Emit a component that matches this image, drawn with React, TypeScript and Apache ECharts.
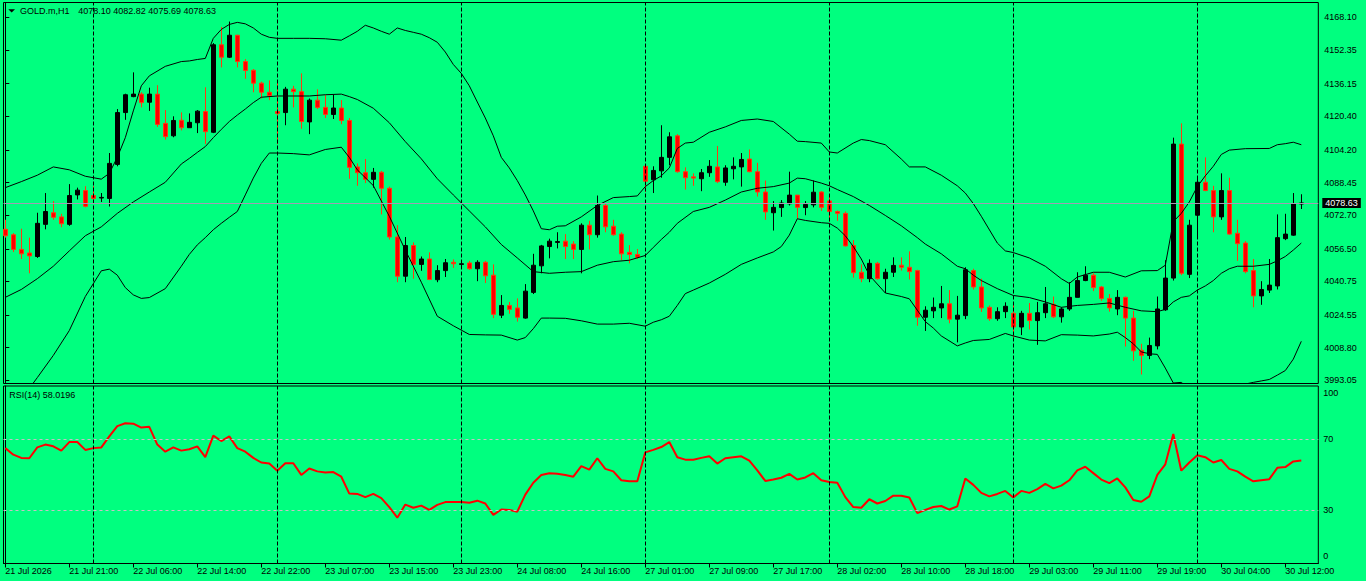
import React, { useEffect, useRef } from 'react';
import * as echarts from 'echarts';

// ---------- DATA ----------
const symbolName = 'GOLD.m,H1';
const headerOHLC = '4078.10 4082.82 4075.69 4078.63';
const rsiTitle = 'RSI(14) 58.0196';
const lastPrice = 4078.63;

// bottom time labels, one every 8 bars starting at bar 0
const timeLabels = [
  '21 Jul 2026', '21 Jul 21:00', '22 Jul 06:00', '22 Jul 14:00', '22 Jul 22:00',
  '23 Jul 07:00', '23 Jul 15:00', '23 Jul 23:00', '24 Jul 08:00', '24 Jul 16:00',
  '27 Jul 01:00', '27 Jul 09:00', '27 Jul 17:00', '28 Jul 02:00', '28 Jul 10:00',
  '28 Jul 18:00', '29 Jul 03:00', '29 Jul 11:00', '29 Jul 19:00', '30 Jul 04:00',
  '30 Jul 12:00',
];
const labelStep = 8;

// day separators (first bar of each day)
const separatorBars = [11, 34, 57, 80, 103, 126, 149];

const priceTicks = [4168.10, 4152.35, 4136.15, 4120.40, 4104.20, 4088.45, 4072.70, 4056.50, 4040.75, 4024.55, 4008.80, 3993.05];
const rsiTicks = [0, 30, 70, 100];
const rsiLevels = [70, 30];

const opens = [
  4065.9, 4063.3, 4056.2, 4054.5, 4052.8, 4068.3, 4073.9, 4071.9, 4068.3, 4082.5,
  4084.6, 4082.2, 4081.0, 4080.8, 4097.2, 4122.2, 4129.9, 4131.1, 4127.2, 4131.1,
  4117.0, 4111.0, 4118.5, 4114.9, 4117.3, 4122.7, 4112.7, 4154.9, 4148.9, 4159.5,
  4146.8, 4142.6, 4136.4, 4132.0, 4122.7, 4122.2, 4133.5, 4132.3, 4117.7, 4128.2,
  4124.7, 4121.3, 4124.4, 4118.4, 4096.0, 4093.2, 4090.0, 4093.4, 4085.7, 4062.2,
  4043.3, 4058.1, 4049.0, 4051.6, 4041.6, 4046.0, 4050.0, 4049.0, 4049.7, 4046.9,
  4050.0, 4043.8, 4024.5, 4029.2, 4028.0, 4023.1, 4035.5, 4048.3, 4057.6, 4059.6,
  4060.2, 4058.8, 4056.2, 4067.9, 4063.3, 4077.4, 4067.4, 4063.6, 4054.8, 4053.8,
  4096.3, 4089.8, 4094.1, 4100.6, 4111.0, 4093.7, 4091.2, 4090.3, 4093.2, 4096.0,
  4088.6, 4095.1, 4096.0, 4099.8, 4093.7, 4083.9, 4073.9, 4076.4, 4078.2, 4082.4,
  4076.4, 4077.7, 4083.9, 4079.6, 4074.5, 4073.6, 4058.1, 4045.2, 4042.1, 4049.5,
  4042.1, 4045.2, 4048.6, 4047.6, 4046.0, 4023.5, 4026.6, 4028.0, 4030.0, 4022.6,
  4024.3, 4046.0, 4038.1, 4028.3, 4022.8, 4026.2, 4025.4, 4018.8, 4025.4, 4021.9,
  4025.7, 4029.7, 4023.7, 4027.5, 4033.1, 4041.2, 4043.8, 4038.1, 4032.6, 4027.5,
  4033.1, 4023.1, 4007.6, 4005.1, 4009.7, 4027.1, 4042.4, 4107.0, 4044.2, 4072.7,
  4088.6, 4084.6, 4071.9, 4084.6, 4064.0, 4059.3, 4046.0, 4033.8, 4036.6, 4038.6,
  4061.4, 4063.1, 4078.10,
];
const highs = [
  4070.5, 4064.1, 4066.2, 4061.9, 4073.9, 4083.4, 4079.5, 4073.4, 4087.7, 4086.0,
  4086.7, 4086.7, 4083.4, 4102.7, 4123.9, 4131.3, 4141.6, 4132.0, 4134.2, 4135.4,
  4123.4, 4120.4, 4122.3, 4121.8, 4123.4, 4134.4, 4155.7, 4163.5, 4166.1, 4159.7,
  4148.0, 4143.2, 4137.1, 4137.7, 4136.8, 4134.6, 4135.1, 4141.1, 4129.0, 4133.4,
  4130.6, 4130.8, 4128.2, 4119.6, 4097.7, 4099.8, 4095.5, 4094.1, 4086.5, 4067.9,
  4062.2, 4059.6, 4052.8, 4054.8, 4048.6, 4051.6, 4051.4, 4050.7, 4050.7, 4051.0,
  4050.7, 4049.0, 4034.2, 4030.9, 4032.6, 4039.5, 4054.1, 4058.4, 4061.4, 4064.5,
  4063.6, 4060.2, 4068.8, 4070.0, 4082.2, 4078.6, 4070.5, 4064.5, 4058.3, 4056.4,
  4097.2, 4096.3, 4116.1, 4112.7, 4111.8, 4095.8, 4092.9, 4095.0, 4099.3, 4106.1,
  4096.8, 4100.6, 4102.7, 4104.4, 4098.0, 4089.4, 4079.5, 4080.0, 4093.7, 4082.5,
  4079.5, 4089.4, 4084.3, 4082.5, 4075.0, 4074.5, 4060.7, 4049.0, 4051.4, 4050.2,
  4046.9, 4052.4, 4052.4, 4055.3, 4046.4, 4028.8, 4033.0, 4038.6, 4036.6, 4033.8,
  4047.6, 4046.9, 4042.1, 4029.2, 4028.3, 4030.7, 4030.7, 4026.6, 4030.4, 4030.9,
  4038.1, 4033.5, 4028.3, 4040.4, 4045.2, 4048.1, 4044.7, 4038.6, 4034.7, 4036.6,
  4033.5, 4026.6, 4010.7, 4013.7, 4033.5, 4051.0, 4110.1, 4117.0, 4070.5, 4091.5,
  4100.6, 4086.9, 4092.9, 4090.8, 4070.5, 4060.2, 4051.6, 4040.9, 4051.6, 4073.1,
  4073.4, 4083.4, 4082.82,
];
const lows = [
  4061.9, 4055.0, 4051.6, 4044.7, 4052.1, 4065.9, 4070.5, 4066.9, 4067.6, 4080.3,
  4076.5, 4079.1, 4079.1, 4076.9, 4096.3, 4118.7, 4129.6, 4124.7, 4123.0, 4115.3,
  4109.2, 4110.3, 4113.6, 4114.8, 4112.3, 4107.0, 4112.3, 4144.0, 4148.5, 4144.0,
  4138.5, 4132.0, 4129.0, 4128.2, 4107.0, 4116.1, 4124.7, 4114.4, 4111.8, 4123.9,
  4119.6, 4119.1, 4116.6, 4090.3, 4086.9, 4088.2, 4086.0, 4073.1, 4061.0, 4040.4,
  4040.4, 4042.1, 4045.9, 4041.4, 4040.4, 4042.9, 4047.3, 4047.3, 4046.4, 4040.9,
  4040.0, 4023.1, 4023.1, 4025.2, 4021.4, 4022.8, 4034.7, 4044.7, 4051.9, 4056.7,
  4051.6, 4051.6, 4044.7, 4056.2, 4061.9, 4064.5, 4062.8, 4051.0, 4049.5, 4051.6,
  4083.9, 4083.4, 4090.8, 4096.8, 4093.2, 4085.1, 4086.9, 4084.3, 4091.2, 4088.2,
  4086.9, 4090.0, 4086.5, 4093.4, 4081.7, 4070.5, 4065.3, 4071.9, 4077.4, 4071.0,
  4072.7, 4076.5, 4074.8, 4069.6, 4070.0, 4057.6, 4042.6, 4040.4, 4040.4, 4041.6,
  4035.2, 4042.9, 4046.0, 4041.7, 4019.4, 4016.9, 4023.1, 4023.1, 4020.6, 4011.4,
  4022.6, 4036.9, 4026.1, 4021.8, 4021.8, 4023.1, 4013.7, 4014.9, 4017.6, 4010.2,
  4023.1, 4023.1, 4020.9, 4026.6, 4033.1, 4040.9, 4036.1, 4031.4, 4026.2, 4024.5,
  4009.4, 4002.5, 3995.9, 4003.3, 4008.0, 4026.6, 4041.2, 4043.8, 4042.4, 4061.4,
  4084.3, 4064.5, 4070.5, 4063.3, 4050.7, 4044.7, 4028.3, 4029.5, 4035.2, 4036.9,
  4060.7, 4062.8, 4075.69,
];
const closes = [
  4062.8, 4056.2, 4054.1, 4053.1, 4068.8, 4074.5, 4071.7, 4068.6, 4082.2, 4084.8,
  4077.0, 4080.8, 4081.3, 4097.7, 4122.2, 4130.8, 4131.1, 4127.0, 4131.1, 4116.5,
  4110.6, 4118.4, 4114.9, 4117.5, 4122.9, 4113.0, 4154.9, 4148.9, 4159.5, 4146.8,
  4142.5, 4136.4, 4132.0, 4130.4, 4121.8, 4133.5, 4132.3, 4117.9, 4128.2, 4124.7,
  4121.3, 4124.4, 4118.4, 4095.8, 4093.2, 4090.0, 4093.4, 4085.7, 4062.2, 4043.3,
  4058.1, 4049.0, 4051.6, 4041.7, 4046.0, 4049.8, 4049.3, 4049.3, 4046.9, 4050.0,
  4043.5, 4024.9, 4029.2, 4027.3, 4023.5, 4036.1, 4048.6, 4057.9, 4060.2, 4060.0,
  4057.6, 4056.2, 4067.9, 4063.3, 4077.4, 4067.1, 4063.3, 4054.1, 4053.8, 4052.4,
  4089.1, 4094.3, 4100.6, 4110.5, 4093.7, 4090.8, 4090.6, 4093.2, 4096.3, 4088.9,
  4095.5, 4096.3, 4099.6, 4093.7, 4083.9, 4074.3, 4076.5, 4078.6, 4082.4, 4076.5,
  4077.9, 4083.8, 4076.5, 4074.5, 4073.6, 4057.9, 4045.0, 4042.1, 4049.5, 4042.1,
  4045.2, 4048.5, 4047.6, 4045.5, 4023.5, 4026.9, 4028.3, 4030.0, 4022.6, 4024.5,
  4046.4, 4038.1, 4028.0, 4022.8, 4026.2, 4028.8, 4018.8, 4025.4, 4021.9, 4025.7,
  4030.0, 4023.7, 4027.5, 4033.1, 4041.2, 4043.8, 4037.8, 4032.6, 4028.0, 4033.1,
  4023.1, 4007.3, 4005.1, 4009.9, 4027.5, 4042.4, 4107.0, 4044.7, 4067.9, 4088.6,
  4084.6, 4071.9, 4084.6, 4063.6, 4059.0, 4045.5, 4033.8, 4036.9, 4039.0, 4061.9,
  4063.6, 4078.2, 4078.63,
];

const rsiValues = [
  65.0, 61.3, 59.5, 59.3, 65.4, 67.0, 66.0, 63.6, 68.4, 68.4,
  64.0, 65.0, 65.4, 71.6, 77.4, 79.0, 78.8, 76.6, 77.0, 67.0,
  63.0, 65.4, 63.6, 64.4, 66.0, 59.9, 72.0, 69.0, 71.6, 65.0,
  63.0, 59.5, 56.9, 56.3, 52.3, 56.5, 56.5, 49.9, 53.5, 51.9,
  51.3, 51.5, 48.9, 39.4, 39.2, 37.4, 39.2, 36.8, 31.8, 25.8,
  33.2, 31.4, 32.6, 30.2, 33.0, 34.6, 34.6, 34.6, 34.2, 35.4,
  33.8, 27.4, 30.4, 30.2, 29.2, 38.8, 45.5, 49.9, 50.9, 50.5,
  49.9, 48.9, 54.9, 52.9, 59.3, 53.3, 51.9, 46.9, 46.3, 46.3,
  62.6, 64.0, 65.6, 68.4, 59.9, 58.5, 58.5, 59.5, 60.4, 56.3,
  59.3, 59.9, 60.4, 57.9, 52.5, 46.5, 47.3, 48.3, 50.5, 47.3,
  48.5, 50.9, 46.9, 45.9, 45.5, 37.4, 31.8, 31.4, 36.2, 33.8,
  35.2, 38.2, 38.2, 37.2, 28.4, 30.2, 31.8, 32.4, 30.4, 32.2,
  47.9, 44.3, 39.8, 37.8, 39.2, 40.9, 37.2, 40.9, 39.8, 41.9,
  44.9, 42.3, 43.9, 46.9, 52.5, 54.5, 50.9, 47.3, 45.3, 47.9,
  42.9, 35.8, 34.8, 37.8, 49.9, 55.9, 73.0, 52.3, 56.9, 61.0,
  59.9, 56.9, 58.3, 53.3, 51.9, 48.9, 46.3, 46.9, 47.5, 53.9,
  54.3, 57.5, 58.02,
];

// Bollinger bands: [bar, price]
const bbUpper = [
  [0, 4086.0], [2, 4088.9], [4, 4092.0], [6, 4096.0], [8, 4094.6], [10, 4091.5], [12, 4090.1],
  [13, 4092.9], [14, 4100.6], [15, 4110.1], [16, 4123.0], [17, 4135.1], [18, 4139.9], [20, 4144.5],
  [22, 4146.8], [23, 4147.1], [24, 4147.8], [25, 4148.3], [26, 4158.0], [27, 4162.3], [28, 4164.7],
  [29, 4165.7], [30, 4165.0], [31, 4163.0], [32, 4160.0], [33, 4158.5], [34, 4158.0], [36, 4158.0],
  [38, 4158.0], [40, 4157.8], [42, 4157.1], [43, 4159.2], [44, 4161.4], [45, 4164.3], [46, 4163.0],
  [47, 4161.4], [48, 4160.0], [49, 4163.0], [50, 4161.8], [51, 4160.9], [52, 4160.0], [53, 4158.3],
  [54, 4156.1], [55, 4151.4], [56, 4145.4], [57, 4141.1], [58, 4135.1], [59, 4127.3], [60, 4119.6],
  [61, 4111.0], [62, 4100.6], [63, 4095.5], [64, 4089.4], [65, 4082.5], [66, 4074.8], [67, 4066.2],
  [68, 4065.7], [69, 4067.4], [70, 4067.6], [72, 4071.9], [74, 4077.4], [76, 4081.2], [78, 4081.7],
  [79, 4082.0], [80, 4086.5], [81, 4089.4], [82, 4091.7], [83, 4095.5], [84, 4104.9], [85, 4107.5],
  [86, 4107.9], [88, 4112.7], [90, 4115.3], [92, 4118.4], [94, 4119.1], [96, 4117.9], [98, 4111.8],
  [99, 4108.4], [100, 4108.2], [102, 4107.5], [103, 4103.2], [104, 4102.7], [106, 4107.5], [107, 4109.2],
  [108, 4108.7], [110, 4106.7], [112, 4099.8], [113, 4096.0], [115, 4096.0], [117, 4092.0], [119, 4086.9],
  [120, 4083.4], [121, 4078.3], [122, 4072.2], [124, 4059.3], [125, 4055.5], [126, 4054.7], [128, 4052.1],
  [130, 4048.1], [132, 4042.1], [133, 4039.8], [134, 4042.9], [136, 4045.2], [138, 4045.2], [140, 4042.9],
  [142, 4045.9], [144, 4046.0], [145, 4048.6], [146, 4069.6], [147, 4073.6], [148, 4079.1], [149, 4086.5],
  [150, 4091.7], [151, 4096.3], [152, 4102.0], [153, 4104.1], [155, 4104.8], [158, 4104.9], [159, 4106.7],
  [160, 4107.2], [161, 4107.9], [162, 4106.7],
];
const bbMiddle = [
  [0, 4033.1], [2, 4036.9], [4, 4042.1], [6, 4048.1], [8, 4055.5], [10, 4062.8], [12, 4067.1],
  [14, 4073.6], [16, 4079.1], [18, 4083.9], [20, 4088.6], [22, 4097.4], [23, 4100.1], [24, 4103.0],
  [25, 4105.8], [26, 4110.1], [27, 4114.1], [28, 4117.9], [29, 4121.0], [30, 4123.9], [31, 4127.0],
  [32, 4129.6], [34, 4130.2], [36, 4130.2], [38, 4130.2], [40, 4130.8], [42, 4131.1], [43, 4129.9],
  [44, 4128.5], [46, 4124.3], [48, 4117.3], [50, 4108.2], [52, 4099.9], [54, 4090.3], [56, 4082.5],
  [58, 4074.8], [60, 4067.1], [62, 4058.6], [64, 4052.1], [66, 4045.5], [68, 4044.7], [70, 4045.2],
  [72, 4045.5], [74, 4048.6], [76, 4050.3], [78, 4051.0], [80, 4053.3], [81, 4057.2], [82, 4061.0],
  [83, 4064.5], [84, 4068.8], [86, 4074.5], [88, 4076.5], [90, 4080.0], [92, 4083.9], [94, 4085.7],
  [96, 4086.5], [98, 4088.2], [99, 4090.6], [100, 4090.3], [102, 4088.2], [103, 4086.9], [104, 4085.1],
  [106, 4081.7], [108, 4077.4], [110, 4072.6], [112, 4067.6], [114, 4061.9], [115, 4058.8], [117, 4054.1],
  [119, 4048.1], [120, 4046.9], [121, 4043.8], [122, 4041.2], [124, 4037.3], [126, 4034.0], [128, 4033.0],
  [130, 4030.9], [132, 4028.3], [134, 4029.2], [136, 4029.7], [138, 4030.4], [140, 4028.3], [142, 4026.6],
  [144, 4026.2], [145, 4027.3], [146, 4030.9], [147, 4033.1], [148, 4033.8], [149, 4036.6], [150, 4038.6],
  [151, 4041.2], [152, 4044.7], [153, 4046.9], [154, 4048.1], [156, 4048.1], [158, 4049.0], [159, 4050.7],
  [160, 4052.8], [161, 4055.9], [162, 4059.3],
];
const bbLower = [
  [0, 3974.2], [2, 3984.2], [3, 3989.2], [4, 3994.4], [6, 4005.1], [8, 4017.1], [10, 4033.5],
  [12, 4045.9], [13, 4046.7], [14, 4043.8], [15, 4037.8], [16, 4034.3], [17, 4032.6], [18, 4033.0],
  [20, 4037.3], [22, 4048.1], [23, 4053.8], [24, 4058.4], [25, 4061.9], [26, 4065.7], [27, 4068.8],
  [28, 4071.7], [29, 4074.5], [30, 4082.5], [31, 4090.6], [32, 4097.7], [33, 4102.7], [34, 4102.7],
  [36, 4102.4], [38, 4101.8], [40, 4104.4], [42, 4105.5], [43, 4100.6], [44, 4094.6], [46, 4087.0],
  [48, 4072.2], [50, 4055.9], [52, 4040.4], [54, 4024.0], [56, 4019.4], [58, 4015.2], [60, 4015.0],
  [62, 4014.9], [64, 4012.5], [65, 4013.7], [66, 4018.0], [67, 4023.1], [68, 4023.1], [70, 4023.0],
  [72, 4021.8], [74, 4020.2], [76, 4020.2], [78, 4020.6], [80, 4019.2], [81, 4021.1], [82, 4022.3],
  [83, 4024.0], [84, 4029.2], [85, 4034.9], [86, 4036.6], [88, 4040.0], [90, 4044.2], [92, 4049.0],
  [94, 4052.1], [96, 4055.0], [97, 4057.6], [98, 4063.1], [99, 4071.0], [100, 4070.2], [102, 4069.1],
  [103, 4068.8], [104, 4066.5], [105, 4062.8], [106, 4057.6], [107, 4051.6], [108, 4043.8], [110, 4035.2],
  [112, 4033.5], [113, 4032.4], [114, 4026.9], [115, 4021.4], [116, 4018.3], [117, 4014.5], [119, 4009.7],
  [120, 4011.1], [121, 4012.3], [123, 4012.8], [125, 4015.7], [126, 4014.5], [128, 4012.5], [130, 4012.1],
  [132, 4015.1], [134, 4014.9], [136, 4014.5], [138, 4015.4], [139, 4016.3], [140, 4013.7], [141, 4010.7],
  [142, 4006.8], [143, 4005.9], [144, 4005.6], [145, 3999.0], [146, 3991.8], [147, 3992.1], [148, 3989.0],
  [150, 3985.5], [152, 3987.5], [154, 3990.5], [156, 3992.1], [157, 3992.8], [158, 3993.5], [159, 3995.6],
  [160, 3997.8], [161, 4003.3], [162, 4011.9],
];

// ---------- STYLE ----------
const BG = '#00FF7F';
const FONT = '"Liberation Sans", Arial, sans-serif';
const X_MIN = -0.225;
const X_MAX = 164.125;
const PRICE_MIN = 3991.56;
const PRICE_MAX = 4175.28;

export default function App() {
  const ref = useRef<HTMLDivElement>(null);

  useEffect(() => {
    if (!ref.current) return;
    const chart = echarts.init(ref.current, null, { renderer: 'svg' });

    const candleData = opens.map((o, i) => [i, o, closes[i], lows[i], highs[i]]);
    const rsiData = rsiValues.map((v, i) => [i, v]);
    const labelIdx = timeLabels.map((_, k) => k * labelStep);

    const bandSeries = (name: string, data: number[][]) => ({
      name,
      type: 'line',
      xAxisIndex: 0,
      yAxisIndex: 0,
      data,
      showSymbol: false,
      symbol: 'none',
      smooth: false,
      clip: true,
      silent: true,
      lineStyle: { color: '#000000', width: 1 },
      z: 3,
    });

    const sepLines = separatorBars.map((b) => ({
      xAxis: b,
      lineStyle: { color: '#000000', width: 1, type: [4, 2] },
      label: { show: false },
    }));

    const option: any = {
      animation: false,
      backgroundColor: BG,
      textStyle: { fontFamily: FONT },
      grid: [
        { left: 3.5, top: 2.5, width: 1314.8, height: 381, show: true, borderColor: '#000', borderWidth: 1, backgroundColor: 'transparent' },
        { left: 3.5, top: 386, width: 1314.8, height: 177.5, show: true, borderColor: '#000', borderWidth: 1, backgroundColor: 'transparent' },
      ],
      xAxis: [
        { type: 'value', gridIndex: 0, min: X_MIN, max: X_MAX, show: false, splitLine: { show: false } },
        {
          type: 'value', gridIndex: 1, min: X_MIN, max: X_MAX,
          splitLine: { show: false },
          axisLine: { show: true, lineStyle: { color: '#000', width: 1 } },
          axisTick: { show: true, customValues: labelIdx, length: 4, lineStyle: { color: '#000' } },
          axisLabel: {
            customValues: labelIdx,
            formatter: (v: number) => timeLabels[Math.round(v / labelStep)] ?? '',
            align: 'left', verticalAlign: 'top', margin: 3,
            fontSize: 9, fontFamily: FONT, color: '#000',
          },
        },
      ],
      yAxis: [
        {
          type: 'value', gridIndex: 0, position: 'right', min: PRICE_MIN, max: PRICE_MAX,
          splitLine: { show: false },
          axisLine: { show: true, lineStyle: { color: '#000', width: 1 } },
          axisTick: { show: true, customValues: priceTicks, length: 4, lineStyle: { color: '#000' } },
          axisLabel: {
            customValues: priceTicks,
            formatter: (v: number) => v.toFixed(2),
            margin: 6, fontSize: 9, fontFamily: FONT, color: '#000',
          },
        },
        {
          type: 'value', gridIndex: 1, position: 'right', min: 0, max: 100,
          splitLine: { show: false },
          axisLine: { show: true, lineStyle: { color: '#000', width: 1 } },
          axisTick: { show: false },
          axisLabel: {
            customValues: rsiTicks,
            formatter: (v: number) => (v === 100 ? '{t|100}' : v === 0 ? '{b|0}' : String(v)),
            margin: 5, fontSize: 9, fontFamily: FONT, color: '#000',
            rich: {
              t: { padding: [14, 0, 0, 0], fontSize: 9, fontFamily: FONT, color: '#000' },
              b: { padding: [0, 0, 15, 0], fontSize: 9, fontFamily: FONT, color: '#000' },
            },
          },
        },
      ],
      series: [
        {
          name: 'GOLD',
          type: 'candlestick',
          xAxisIndex: 0,
          yAxisIndex: 0,
          data: candleData,
          dimensions: ['idx', 'open', 'close', 'lowest', 'highest'],
          encode: { x: 'idx', y: ['open', 'close', 'lowest', 'highest'] },
          barWidth: 4,
          clip: true,
          silent: true,
          z: 2,
          itemStyle: {
            color: '#000000',
            color0: '#FF0000',
            borderColor: '#000000',
            borderColor0: '#FF3A10',
            borderWidth: 1,
          },
          markLine: {
            silent: true,
            symbol: ['none', 'none'],
            animation: false,
            data: [
              ...sepLines,
              {
                yAxis: lastPrice,
                lineStyle: { color: '#A39CB2', width: 1, type: 'solid' },
                label: {
                  show: true,
                  position: 'end',
                  distance: 4,
                  formatter: () => lastPrice.toFixed(2),
                  backgroundColor: '#000000',
                  color: '#FFFFFF',
                  fontSize: 9,
                  fontFamily: FONT,
                  lineHeight: 10,
                  padding: [0, 3, 0, 3],
                },
              },
            ],
          },
        },
        bandSeries('BB upper', bbUpper),
        bandSeries('BB middle', bbMiddle),
        bandSeries('BB lower', bbLower),
        {
          name: 'RSI(14)',
          type: 'line',
          xAxisIndex: 1,
          yAxisIndex: 1,
          data: rsiData,
          showSymbol: false,
          symbol: 'none',
          silent: true,
          clip: true,
          lineStyle: { color: '#FF0000', width: 2 },
          z: 3,
          markLine: {
            silent: true,
            symbol: ['none', 'none'],
            animation: false,
            data: [
              ...rsiLevels.map((lv) => ({
                yAxis: lv,
                lineStyle: { color: '#C8C0C8', width: 1, type: [3, 3] },
                label: { show: false },
              })),
              ...sepLines,
            ],
          },
        },
      ],
      graphic: [
        {
          type: 'polygon',
          shape: { points: [[8.3, 9.3], [15, 9.3], [11.65, 12.6]] },
          style: { fill: '#000' },
          silent: true,
        },
        {
          type: 'text', x: 20, y: 11,
          style: { text: symbolName, fontSize: 9, fontFamily: FONT, fill: '#000', verticalAlign: 'middle', align: 'left' },
          silent: true,
        },
        {
          type: 'text', x: 78.3, y: 11,
          style: { text: headerOHLC, fontSize: 9, fontFamily: FONT, fill: '#000', verticalAlign: 'middle', align: 'left' },
          silent: true,
        },
        {
          type: 'text', x: 9.3, y: 394.5,
          style: { text: rsiTitle, fontSize: 9, fontFamily: FONT, fill: '#000', verticalAlign: 'middle', align: 'left' },
          silent: true,
        },
      ],
    };

    chart.setOption(option);
    return () => chart.dispose();
  }, []);

  return (
    <div
      ref={ref}
      style={{ position: 'fixed', left: 0, top: 0, width: 1366, height: 581, background: BG }}
    />
  );
}
